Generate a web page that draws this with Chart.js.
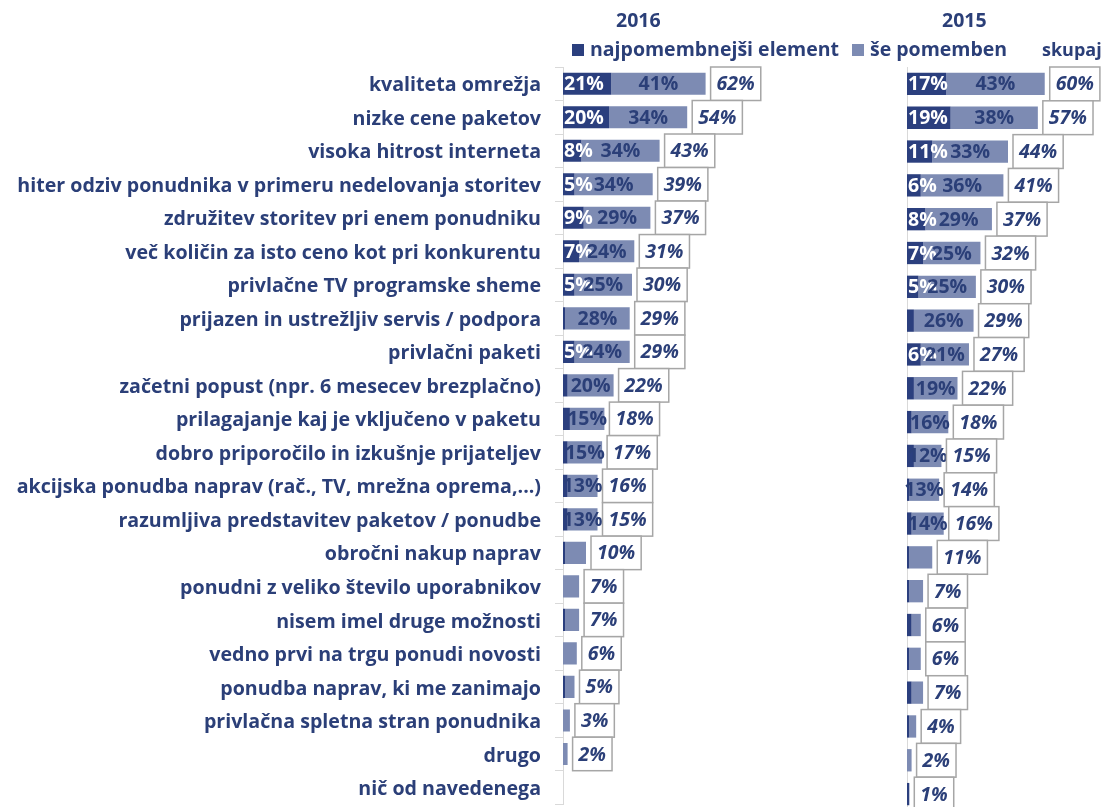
<!DOCTYPE html>
<html>
<head>
<meta charset="utf-8">
<script src="https://cdn.jsdelivr.net/npm/chart.js@4"></script>
<style>
  body { margin: 0; background: #fff; }
  #okvir { position: relative; width: 1109px; height: 807px; overflow: hidden; font-family: "Open Sans", sans-serif; color: #2B3F78; }
  canvas { position: absolute; top: 0; }
  .napis { position: absolute; font-weight: bold; white-space: nowrap; font-size: 19.5px; line-height: 24px; }
  .kv { display: inline-block; width: 12px; height: 12px; margin-right: 6px; }
</style>
</head>
<body>
<div id="okvir">
  <canvas id="graf2016" width="800" height="830" style="left:0"></canvas>
  <canvas id="graf2015" width="209" height="830" style="left:900px"></canvas>
  <div class="napis" style="left:616px; top:8px">2016</div>
  <div class="napis" style="left:942px; top:8px">2015</div>
  <div class="napis" style="left:572px; top:37px"><span class="kv" style="background:#2B3F7E"></span>najpomembnejši element</div>
  <div class="napis" style="left:852px; top:37px"><span class="kv" style="background:#7D8BB3"></span>še pomemben</div>
  <div class="napis" style="left:1042px; top:37px; font-size:18px">skupaj</div>
</div>
<script>
const kategorije = [
  "kvaliteta omrežja",
  "nizke cene paketov",
  "visoka hitrost interneta",
  "hiter odziv ponudnika v primeru nedelovanja storitev",
  "združitev storitev pri enem ponudniku",
  "več količin za isto ceno kot pri konkurentu",
  "privlačne TV programske sheme",
  "prijazen in ustrežljiv servis / podpora",
  "privlačni paketi",
  "začetni popust (npr. 6 mesecev brezplačno)",
  "prilagajanje kaj je vključeno v paketu",
  "dobro priporočilo in izkušnje prijateljev",
  "akcijska ponudba naprav (rač., TV, mrežna oprema,...)",
  "razumljiva predstavitev paketov / ponudbe",
  "obročni nakup naprav",
  "ponudni z veliko število uporabnikov",
  "nisem imel druge možnosti",
  "vedno prvi na trgu ponudi novosti",
  "ponudba naprav, ki me zanimajo",
  "privlačna spletna stran ponudnika",
  "drugo",
  "nič od navedenega"
];

// 2016
const najpomembnejsi2016 = [21, 20, 8, 5, 9, 7, 5, 1, 5, 2, 3, 2, 2, 2, 1, 0, 1, 0, 1, 0, 0, 0];
const sePomemben2016     = [41, 34, 34, 34, 29, 24, 25, 28, 24, 20, 15, 15, 13, 13, 9, 7, 6, 6, 4, 3, 2, 0];
const skupaj2016         = [62, 54, 43, 39, 37, 31, 30, 29, 29, 22, 18, 17, 16, 15, 10, 7, 7, 6, 5, 3, 2, null];

// 2015
const najpomembnejsi2015 = [17, 19, 11, 6, 8, 7, 5, 3, 6, 3, 2, 3, 1, 2, 1, 1, 2, 1, 2, 1, 0, 1];
const sePomemben2015     = [43, 38, 33, 36, 29, 25, 25, 26, 21, 19, 16, 12, 13, 14, 10, 6, 4, 5, 5, 3, 2, 0];
const skupaj2015         = [60, 57, 44, 41, 37, 32, 30, 29, 27, 22, 18, 15, 14, 16, 11, 7, 6, 6, 7, 4, 2, 1];

const TEMNA = '#2B3F7E';
const SVETLA = '#7D8BB3';
const BESEDILO = '#2B3F78';
const PISAVA = '"Open Sans", sans-serif';

// velikost pisave za kategorije: najdaljša vrstica naj bo široka ~524px
const merilo = document.createElement('canvas').getContext('2d');
merilo.font = 'bold 100px ' + PISAVA;
const velikostKategorij = Math.min(20, 100 * 524 / merilo.measureText(kategorije[3]).width);

// oznake na segmentih + okvirčki s skupno vrednostjo
const oznakePlugin = {
  id: 'oznake',
  afterDatasetsDraw(chart, args, opts) {
    const ctx = chart.ctx;
    const y = chart.scales.y;
    const pas = y.height / kategorije.length;
    ctx.save();
    ctx.textBaseline = 'middle';
    ctx.font = 'bold 19.5px ' + PISAVA;
    chart.data.datasets.forEach((ds, i) => {
      const meta = chart.getDatasetMeta(i);
      const meja = i === 0 ? 5 : 12;
      meta.data.forEach((bar, j) => {
        const v = ds.data[j];
        if (v < meja) return;
        if (i === 0) {
          // temni del: oznaka ob začetku stolpca
          ctx.textAlign = 'left';
          ctx.fillStyle = '#ffffff';
          ctx.fillText(v + '%', bar.base + 1, bar.y + 1);
        } else {
          ctx.textAlign = 'center';
          ctx.fillStyle = BESEDILO;
          ctx.fillText(v + '%', (bar.x + bar.base) / 2, bar.y + 1);
        }
      });
    });

    const zadnji = chart.getDatasetMeta(1);
    ctx.textAlign = 'center';
    ctx.font = 'italic bold 19.5px ' + PISAVA;
    opts.skupaj.forEach((t, j) => {
      if (t == null) return;
      const bar = zadnji.data[j];
      const besedilo = t + '%';
      const sirina = ctx.measureText(besedilo).width + 12;
      const levo = Math.max(bar.x, bar.base) + 5;
      const vrh = y.getPixelForValue(j) - pas / 2;
      ctx.fillStyle = '#ffffff';
      ctx.fillRect(levo, vrh, sirina, pas);
      ctx.strokeStyle = '#A6A6A6';
      ctx.lineWidth = 1.5;
      ctx.strokeRect(levo, vrh, sirina, pas);
      ctx.fillStyle = BESEDILO;
      ctx.fillText(besedilo, levo + sirina / 2, y.getPixelForValue(j) + 1);
    });
    ctx.restore();
  }
};

function narediGraf(id, temna, svetla, skupaj, sLabelami, xMax, sirinaOsi) {
  return new Chart(document.getElementById(id), {
    type: 'bar',
    data: {
      labels: kategorije,
      datasets: [
        { label: 'najpomembnejši element', data: temna, backgroundColor: TEMNA },
        { label: 'še pomemben', data: svetla, backgroundColor: SVETLA }
      ]
    },
    options: {
      indexAxis: 'y',
      responsive: false,
      animation: false,
      devicePixelRatio: 1,
      layout: { padding: { top: 67, bottom: 19, left: 0, right: sLabelami ? 7 : 0 } },
      datasets: { bar: { categoryPercentage: 1, barPercentage: 0.66 } },
      plugins: {
        legend: { display: false },
        tooltip: { enabled: false },
        oznake: { skupaj: skupaj }
      },
      scales: {
        x: { stacked: true, min: 0, max: xMax, display: false },
        y: {
          stacked: true,
          afterFit: (s) => { s.width = sirinaOsi; },
          border: { color: '#D9D9D9' },
          grid: { drawOnChartArea: false, drawTicks: sLabelami, tickLength: 8, color: '#D9D9D9' },
          ticks: {
            display: sLabelami,
            padding: 14,
            labelOffset: 2,
            color: BESEDILO,
            font: { family: PISAVA, weight: 'bold', size: velikostKategorij }
          }
        }
      }
    },
    plugins: [oznakePlugin]
  });
}

narediGraf('graf2016', najpomembnejsi2016, sePomemben2016, skupaj2016, true, 100, 563);
narediGraf('graf2015', najpomembnejsi2015, sePomemben2015, skupaj2015, false, 88, 7);
</script>
</body>
</html>
